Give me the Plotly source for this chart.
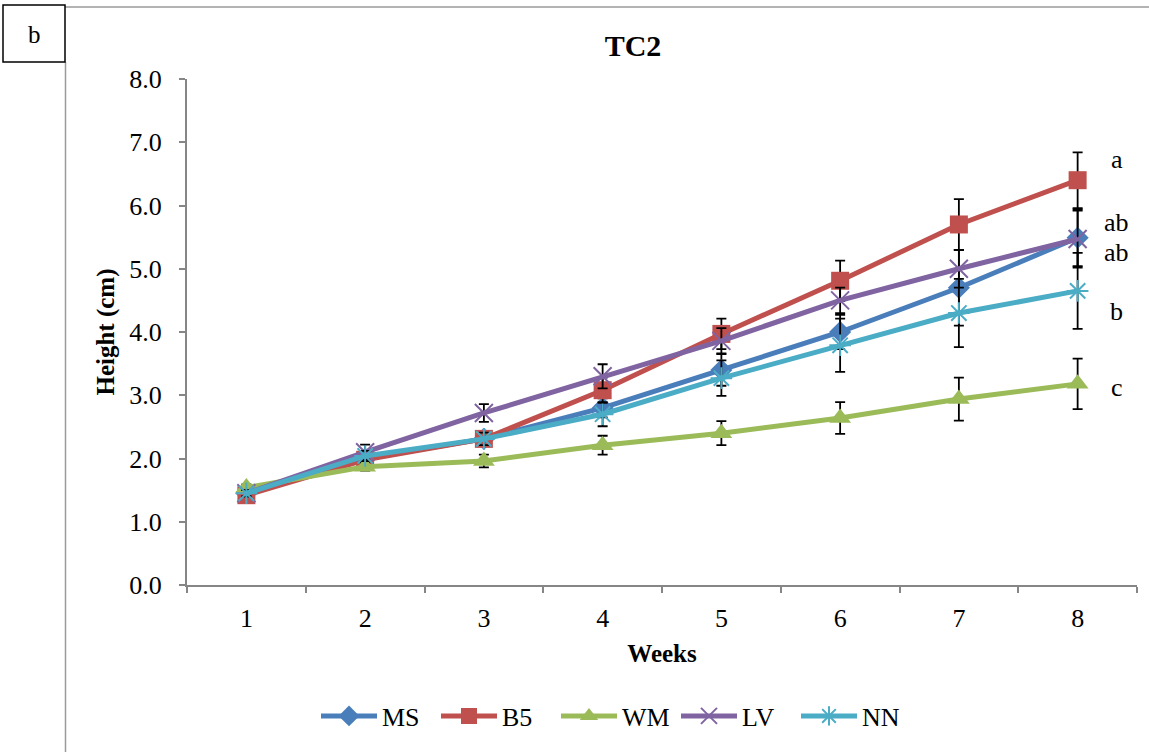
import plotly.graph_objects as go

weeks = [1, 2, 3, 4, 5, 6, 7, 8]

ms = [1.45, 2.00, 2.31, 2.80, 3.40, 4.00, 4.70, 5.49]
b5 = [1.42, 1.98, 2.31, 3.08, 3.97, 4.81, 5.70, 6.40]
wm = [1.54, 1.87, 1.96, 2.21, 2.40, 2.64, 2.94, 3.18]
lv = [1.45, 2.10, 2.72, 3.30, 3.86, 4.50, 5.00, 5.47]
nn = [1.45, 2.04, 2.31, 2.70, 3.27, 3.79, 4.30, 4.65]

ms_err = [0.05, 0.08, 0.10, 0.15, 0.25, 0.27, 0.60, 0.45]
b5_err = [0.05, 0.10, 0.10, 0.20, 0.24, 0.32, 0.40, 0.44]
wm_err = [0.05, 0.06, 0.10, 0.15, 0.19, 0.25, 0.34, 0.40]
lv_err = [0.05, 0.12, 0.14, 0.19, 0.20, 0.20, 0.30, 0.45]
nn_err = [0.05, 0.08, 0.10, 0.19, 0.28, 0.42, 0.54, 0.60]

series_names = ["MS", "B5", "WM", "LV", "NN"]
sig_letters = ["a", "ab", "ab", "b", "c"]
sig_letter_y = [6.72, 5.73, 5.25, 4.33, 3.13]

FONT = "Liberation Serif, Times New Roman, serif"

W, H = 1149, 752
L, R, T, B = 187, 1137, 79, 585

def px(x):
    return (x - L) / (R - L)

def py(y):
    return (B - y) / (B - T)

styles = [
    dict(color="#4A7EBB", symbol="diamond", size=17, lw=0),
    dict(color="#C0504D", symbol="square", size=18, lw=0),
    dict(color="#9BBB59", symbol="triangle-up", size=19, lw=0),
    dict(color="#8064A2", symbol="x-thin-open", size=18, lw=2),
    dict(color="#4BACC6", symbol="asterisk-open", size=18, lw=2),
]

data = [ms, b5, wm, lv, nn]
errs = [ms_err, b5_err, wm_err, lv_err, nn_err]

fig = go.Figure()
for name, vals, err, st in zip(series_names, data, errs, styles):
    fig.add_trace(go.Scatter(
        x=weeks, y=vals, name=name, mode="lines+markers",
        line=dict(color=st["color"], width=5),
        marker=dict(symbol=st["symbol"], size=st["size"], color=st["color"],
                    line=dict(color=st["color"], width=st["lw"])),
        error_y=dict(type="data", array=err, visible=True, color="black",
                     thickness=1.8, width=5),
    ))

annotations = []
for lab, yv in zip(sig_letters, sig_letter_y):
    annotations.append(dict(x=8.33, y=yv, xref="x", yref="y", text=lab,
                            showarrow=False, xanchor="center", yanchor="middle",
                            font=dict(family=FONT, size=26, color="black")))
annotations.append(dict(x=px(34), y=py(34), xref="paper", yref="paper", text="b",
                        showarrow=False, xanchor="center", yanchor="middle",
                        font=dict(family=FONT, size=25, color="black")))

shapes = [
    dict(type="line", xref="paper", yref="paper", x0=px(65), x1=px(1149), y0=py(7), y1=py(7),
         line=dict(color="#9a9a9a", width=1.5)),
    dict(type="line", xref="paper", yref="paper", x0=px(65.5), x1=px(65.5), y0=py(62), y1=py(752),
         line=dict(color="#9a9a9a", width=1.5)),
    dict(type="rect", xref="paper", yref="paper", x0=px(3), x1=px(65), y0=py(5), y1=py(62),
         line=dict(color="black", width=1.5), fillcolor="white"),
]

fig.update_layout(
    width=W, height=H,
    margin=dict(l=L, r=W - R, t=T, b=H - B),
    paper_bgcolor="white", plot_bgcolor="white",
    font=dict(family=FONT, size=26, color="black"),
    title=dict(text="<b>TC2</b>", x=633 / W, xanchor="center", y=1 - 45 / H, yanchor="middle",
               font=dict(family=FONT, size=30, color="black")),
    xaxis=dict(
        range=[0.5, 8.5], tickmode="array", tickvals=weeks, ticktext=[str(w) for w in weeks],
        ticks="", showgrid=False, zeroline=False, showline=True, linecolor="#868686",
        linewidth=2, ticklabelstandoff=9,
        minor=dict(tickmode="array", tickvals=[w - 0.5 for w in weeks] + [8.5],
                   ticks="outside", ticklen=6, tickcolor="#868686", tickwidth=2, showgrid=False),
        title=dict(text="<b>Weeks</b>", font=dict(family=FONT, size=25), standoff=12),
        tickfont=dict(family=FONT, size=26),
    ),
    yaxis=dict(
        range=[0, 8], dtick=1, tick0=0, tickformat=".1f", ticks="outside", ticklen=6,
        tickcolor="#868686", tickwidth=2, showgrid=False, zeroline=False, showline=True,
        linecolor="#868686", linewidth=2, ticklabelstandoff=12,
        title=dict(text="<b>Height (cm)</b>", font=dict(family=FONT, size=25), standoff=8),
        tickfont=dict(family=FONT, size=26),
    ),
    legend=dict(orientation="h", x=px(616), xanchor="center", y=py(716), yanchor="middle",
                font=dict(family=FONT, size=26), itemwidth=56, entrywidth=49,
                tracegroupgap=0, bgcolor="rgba(0,0,0,0)"),
    showlegend=True,
    annotations=annotations,
    shapes=shapes,
)

fig.write_html("out.html")
